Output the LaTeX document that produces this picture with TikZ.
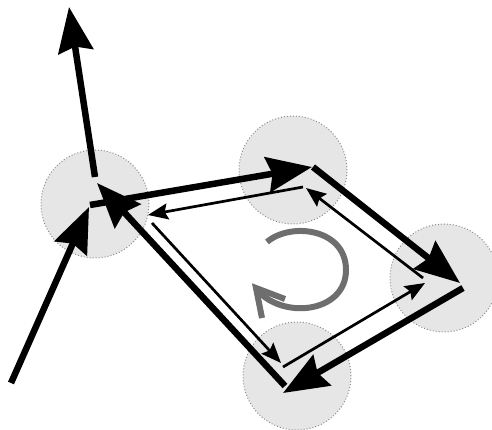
\documentclass[tikz,border=0pt]{standalone}
\usetikzlibrary{arrows.meta}
\definecolor{nodefill}{RGB}{230,230,230}
\definecolor{nodeborder}{RGB}{140,140,140}
\definecolor{arcgray}{RGB}{110,110,110}
\begin{document}
\begin{tikzpicture}[x=1pt,y=-1pt,
  joint/.style={circle, fill=nodefill, draw=nodeborder, dotted, line width=1pt, minimum size=108pt, inner sep=0pt},
  force/.style={line width=6.5pt, -{Stealth[length=45pt,width=35pt,inset=5pt]}},
  reaction/.style={line width=2.7pt, -{Stealth[length=20pt,width=16pt,inset=3pt]}},
  rot/.style={arcgray, line width=6pt}]
\useasboundingbox (0,0) rectangle (492,430);
% joints
\node[joint] (j1) at (95,204) {};
\node[joint] (j2) at (293,170) {};
\node[joint] (j3) at (444,278) {};
\node[joint] (j4) at (297,376) {};
% thick (outer) end points
\coordinate (a0) at (90,205);  \coordinate (bt) at (312,167);
\coordinate (b0) at (313,167); \coordinate (ct) at (460,283);
\coordinate (c0) at (463,288); \coordinate (dt) at (283,393);
\coordinate (d0) at (285,386); \coordinate (at) at (97,183);
\coordinate (up0) at (95,177); \coordinate (upt) at (69,7);
\coordinate (in0) at (11,383); \coordinate (int) at (89,207);
% thin (inner) end points
\coordinate (b1) at (303,187); \coordinate (a1t) at (148,215);
\coordinate (c1) at (423,278); \coordinate (b1t) at (306,188);
\coordinate (d1) at (283,367); \coordinate (c1t) at (425,283);
\coordinate (a1) at (152,223); \coordinate (d1t) at (281,363);
% rotation arrow points
\coordinate (r0) at (267,242); \coordinate (rm) at (346,270); \coordinate (rt) at (258,291);
\coordinate (v1) at (285,299); \coordinate (vt) at (256,288); \coordinate (v2) at (262,318);
% thin arrows
\draw[reaction] (b1) -- (a1t);
\draw[reaction] (c1) -- (b1t);
\draw[reaction] (d1) -- (c1t);
\draw[reaction] (a1) -- (d1t);
% thick arrows
\draw[force] (a0) -- (bt);
\draw[force] (b0) -- (ct);
\draw[force] (c0) -- (dt);
\draw[force] (d0) -- (at);
\draw[force] (up0) -- (upt);
\draw[force] (in0) -- (int);
% rotation
\draw[rot] (r0) .. controls (290,222) and (346,228) .. (rm)
  .. controls (346,312) and (285,320) .. (rt);
\draw[rot, line join=miter, miter limit=10] (v1) -- (vt) -- (v2);
\end{tikzpicture}
\end{document}
